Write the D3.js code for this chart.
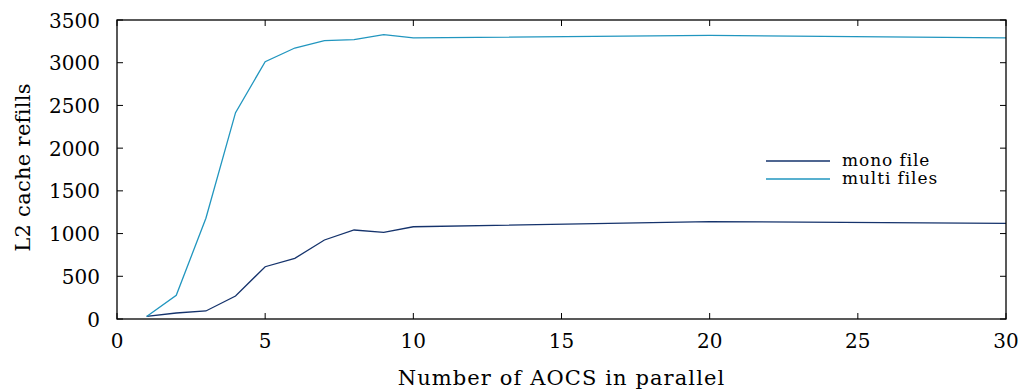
<!DOCTYPE html>
<html><head><meta charset="utf-8">
<script src="https://cdn.jsdelivr.net/npm/d3@7"></script>
<style>
body{margin:0;background:#fff;}
</style></head>
<body><svg id="c" width="1022" height="392" font-family="'DejaVu Serif',serif"></svg>
<script>
const xValues = [1,2,3,4,5,6,7,8,9,10,20,30];
const monoFile = [30,70,94,269,612,710,925,1042,1015,1080,1140,1120];
const multiFiles = [30,277,1179,2415,3012,3172,3258,3270,3328,3290,3320,3290];
const xTicks = [0,5,10,15,20,25,30];
const yTicks = [0,500,1000,1500,2000,2500,3000,3500];
const seriesNames = ["mono file","multi files"];

const svg = d3.select("#c");
const L=117,R=1006,T=20,B=319;
const x = d3.scaleLinear().domain([0,30]).range([L,R]);
const y = d3.scaleLinear().domain([0,3500]).range([B,T]);
const colors = ["#15336c","#2196bf"];

const g = svg.append("g");
const tl=6;
xTicks.forEach(v=>{
  g.append("line").attr("x1",x(v)).attr("x2",x(v)).attr("y1",B).attr("y2",B-tl).attr("stroke","#000");
  g.append("line").attr("x1",x(v)).attr("x2",x(v)).attr("y1",T).attr("y2",T+tl).attr("stroke","#000");
  g.append("text").attr("x",x(v)).attr("y",B+29).attr("text-anchor","middle").attr("font-size",20).text(v);
});
yTicks.forEach(v=>{
  g.append("line").attr("x1",L).attr("x2",L+tl).attr("y1",y(v)).attr("y2",y(v)).attr("stroke","#000");
  g.append("line").attr("x1",R).attr("x2",R-tl).attr("y1",y(v)).attr("y2",y(v)).attr("stroke","#000");
  g.append("text").attr("x",L-17).attr("y",y(v)+7.5).attr("text-anchor","end").attr("font-size",20).text(v);
});

const line = d3.line().x((d,i)=>x(xValues[i])).y(d=>y(d));
[monoFile,multiFiles].forEach((s,k)=>{
  svg.append("path").attr("d",line(s)).attr("fill","none").attr("stroke",colors[k]).attr("stroke-width",1.3);
});

svg.append("rect").attr("x",L).attr("y",T).attr("width",R-L).attr("height",B-T).attr("fill","none").attr("stroke","#000").attr("stroke-width",1.3);

seriesNames.forEach((n,k)=>{
  const ly = 161 + k*18;
  svg.append("line").attr("x1",766).attr("x2",830).attr("y1",ly).attr("y2",ly).attr("stroke",colors[k]).attr("stroke-width",1.3);
  svg.append("text").attr("x",842).attr("y",ly+5).attr("font-size",17).attr("letter-spacing",0.9).text(n);
});

svg.append("text").attr("x",(L+R)/2).attr("y",385).attr("text-anchor","middle").attr("font-size",21).attr("letter-spacing",1.1).text("Number of AOCS in parallel");
svg.append("text").attr("transform",`translate(30,${(T+B)/2-2}) rotate(-90)`).attr("text-anchor","middle").attr("font-size",21).attr("letter-spacing",0.3).text("L2 cache refills");
</script></body></html>
